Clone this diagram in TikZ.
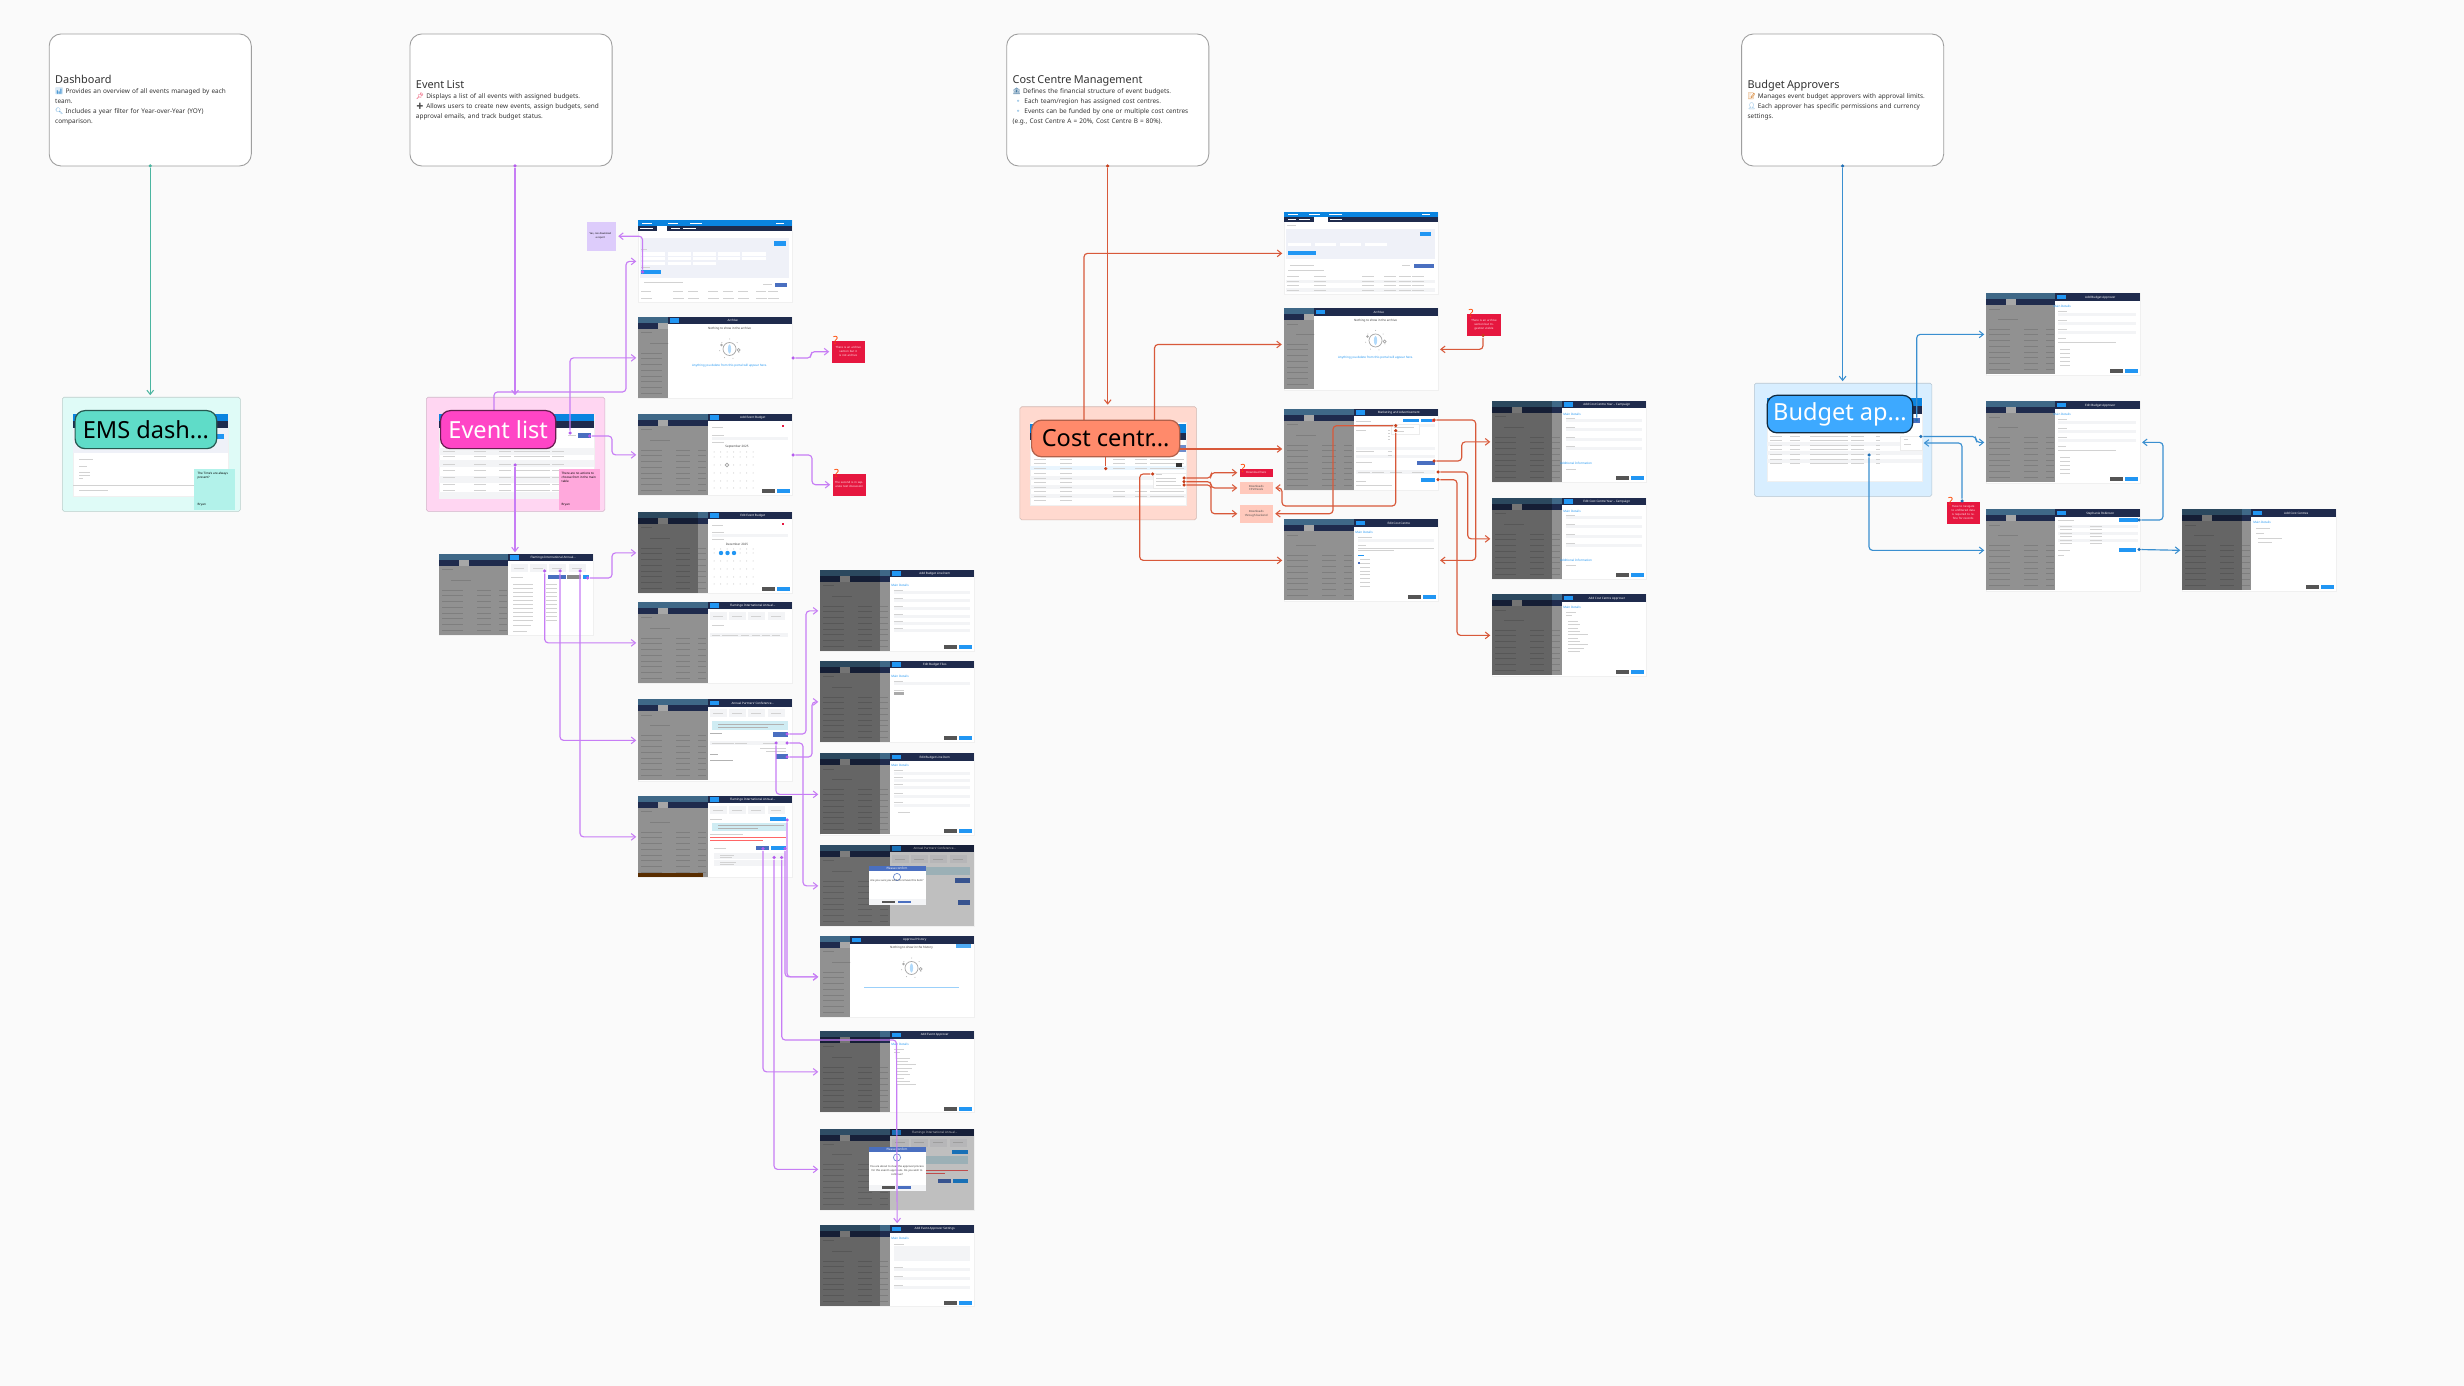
\documentclass[tikz,border=0pt]{standalone}
\usepackage{fontspec}
\setmainfont{Noto Sans}
\newfontfamily\emojifont{Noto Emoji}
\usetikzlibrary{arrows.meta}

\definecolor{canvas}{HTML}{FAFAFA}
\definecolor{navybar}{HTML}{1F2B4D}
\definecolor{topblue}{HTML}{0A84E0}
\definecolor{btnblue}{HTML}{2196F3}
\definecolor{btndark}{HTML}{4A6FC0}
\definecolor{btngray}{HTML}{555555}
\definecolor{sidedim}{HTML}{919191}
\definecolor{rowdim}{HTML}{7E7E7E}
\definecolor{panelbg}{HTML}{EFF1F8}
\definecolor{fieldbg}{HTML}{F3F4F6}
\definecolor{infobg}{HTML}{CFECF3}
\definecolor{evtline}{HTML}{C77DF5}
\definecolor{evtdot}{HTML}{B55CEE}
\definecolor{dashline}{HTML}{4BB5A0}
\definecolor{costline}{HTML}{D8593A}
\definecolor{costdot}{HTML}{C83E1A}
\definecolor{budgline}{HTML}{3A8FD0}
\definecolor{budgdot}{HTML}{1F6FB5}
\definecolor{alertred}{HTML}{E6173F}
\definecolor{costpink}{HTML}{FFC9BC}
\definecolor{dashfill}{HTML}{5FDCC8}
\definecolor{evtfill}{HTML}{FF45C6}
\definecolor{costfill}{HTML}{FF8A6B}
\definecolor{budgfill}{HTML}{3DA9FF}
\definecolor{mintnote}{HTML}{B2F2EA}
\definecolor{pinknote}{HTML}{FFA8DC}
\definecolor{lilacnote}{HTML}{DDCCFB}

\newcommand{\cardtitle}{\fontsize{3.1}{4}\selectfont}
\newcommand{\cardbody}{\fontsize{1.83}{2.85}\selectfont}
\newcommand{\tinyfont}{\fontsize{0.85}{1.1}\selectfont}
\newcommand{\emo}[2]{{\color{#1}\emojifont #2}}

\tikzset{
  infocard/.style={draw=gray!75,fill=white,line width=0.25pt,rounded corners=3.4pt,
    minimum width=2.02cm,minimum height=1.32cm,text width=1.9cm,inner xsep=0.06cm,inner ysep=0pt,
    align=left,font=\cardbody,text=black!80},
  groupbox/.style={draw=#1!80!black!90,fill=#1,line width=0.15pt,rounded corners=0.5pt,anchor=north west,inner sep=0pt},
  badge/.style={rounded corners=2.8pt,line width=0.35pt,anchor=north west,inner sep=0pt,font=\fontsize{6.7}{8}\selectfont},
  shotframe/.style={draw=gray!12,fill=white,line width=0.2pt,anchor=north west,inner sep=0pt,
    minimum width=1.535cm,minimum height=0.81cm},
  mockframe/.style={draw=gray!12,fill=white,line width=0.2pt,anchor=north west,inner sep=0pt},
  shottitle/.style={text=white,font=\tinyfont,inner sep=0pt},
  tinytext/.style={text=black!75,font=\tinyfont,inner sep=0pt},
  rowline/.style={draw=gray!35,line width=0.28pt},
  sticky/.style={fill=#1,anchor=north west,inner sep=0pt},
  stickytext/.style={anchor=north west,inner sep=0pt,font=\tinyfont,align=left},
  alertnote/.style={fill=alertred,anchor=north west,inner sep=0pt,text=white!90!alertred,
    font=\fontsize{0.8}{1.1}\selectfont,align=center},
  pinkbox/.style={fill=costpink,anchor=north west,inner sep=0pt,text=black!70,
    font=\fontsize{0.8}{1.1}\selectfont,align=center},
  qmark/.style={text=orange!55!red,font=\fontsize{3.2}{4}\selectfont\bfseries,inner sep=0pt},
  flow/.style={draw=#1,line width=0.33pt,rounded corners=1pt,shorten >=0.5pt,
    -{Straight Barb[length=1.2pt,width=1.9pt,line width=0.3pt]}},
  flowplain/.style={draw=#1,line width=0.33pt},
  portdot/.style={circle,fill=#1,inner sep=0pt,minimum size=0.035cm},
}

% dimmed page behind a drawer: name, x, y, sidebar width, title, body
\newcommand{\shot}[6]{
  \node[shotframe] (#1) at (#2,#3) {};
  \begin{scope}[shift={(#2,#3)}]
    \begin{scope}
      \clip (0,0) rectangle (#4,81);
      \fill[sidedim] (0,0) rectangle (#4,81);
      \fill[topblue!45!sidedim!75!black] (0,0) rectangle (#4,6);
      \fill[navybar] (0,6) rectangle (#4,12);
      \fill[sidedim!80!white] (20,6) rectangle (30,12);
      \draw[rowdim,line width=0.25pt] (3,15.5) -- (14,15.5) (12,26) -- (32,26);
      \foreach \y in {36,41,47,53,59,64,70,76}
        \draw[rowdim,line width=0.25pt] (3,\y) -- (24,\y) (38,\y) -- (52,\y) (60,\y) -- (68,\y)
          (78,\y) -- (88,\y) (98,\y) -- (110,\y);
    \end{scope}
    \fill[navybar] (#4,0) rectangle (153.5,7.5);
    \fill[btnblue] ({#4+1.5},1.5) rectangle +(9,4.5);
    \node[shottitle] (#1title) at ({(#4+153.5)/2+3},3.8) {#5};
    #6
  \end{scope}
}
\newcommand{\dimleft}[1]{\fill[black,opacity=0.3] (0,0) rectangle (#1,81);}
\newcommand{\fieldbody}[2]{
  \foreach \y in {#2} {
    \draw[rowline] (#1,\y) -- +(9,0);
    \fill[fieldbg] (#1,\y+1.2) rectangle (150,\y+4.2);
  }
}
\newcommand{\footbtns}{
  \fill[btngray] (124,75.5) rectangle (137,79.5);
  \fill[btnblue] (139,75.5) rectangle (152,79.5);
}
\newcommand{\tabsbody}{
  \foreach \x in {72,91,110,130} \fill[fieldbg] (\x,10) rectangle +(17,8);
  \foreach \x in {75,94,113,133} \draw[rowline] (\x,14) -- +(10,0);
}
\newcommand{\emptybody}[4]{
  \node[tinytext,font=\tinyfont\bfseries] (#1head) at (#2,12) {#3};
  \draw[gray!70,line width=0.2pt] (#2,32) circle (6.5);
  \fill[btnblue!35] (#2,32) ellipse (1.6 and 4.6);
  \fill[gray!70] ({#2-8},28) circle (1.4);
  \draw[gray!70,line width=0.2pt] ({#2+9},33) circle (1.5);
  \foreach \a in {20,70,120,170,220,270,320}
    \fill[gray!60] (#2,32) ++(\a:10) circle (0.5);
  #4
}
\newcommand{\dialogbox}[5]{
  \fill[white] (48.5,#2) rectangle (105.5,#3);
  \fill[btndark] (48.5,#2) rectangle (105.5,{#2+5.5});
  \node[shottitle] (#1head) at (77,{#2+2.8}) {Please confirm};
  \fill[fieldbg] (48.5,{#3-6}) rectangle (105.5,#3);
  \draw[btndark!80,line width=0.2pt] (77,{#2+11}) circle (3.6);
  \fill[btngray] (62,{#3-4.4}) rectangle +(13,2.8);
  \fill[btndark] (78,{#3-4.4}) rectangle +(13,2.8);
  \node[tinytext,align=center,font=\fontsize{0.75}{1.1}\selectfont] (#1text) at (77,#4) {#5};
}
\newcommand{\mockrows}[2]{
  \foreach \y in {#1} \foreach \x in {#2} \draw[rowline] (\x,\y) -- +(12,0);
}

\begin{document}
\begin{tikzpicture}[x=0.01cm,y=-0.01cm]
\useasboundingbox (0,0) rectangle (2464,1386);
\fill[canvas] (0,0) rectangle (2464,1386);

% section cards
\node[infocard] (dashcard) at (150.25,100) {{\cardtitle Dashboard}\\
  \emo{budgline}{📊} Provides an overview of all events managed by each\\ team.\\
  \emo{budgline}{🔍} Includes a year filter for Year-over-Year (YOY)\\ comparison.};
\node[infocard] (evtcard) at (511,100) {{\cardtitle Event List}\\
  \emo{alertred}{📌} Displays a list of all events with assigned budgets.\\
  \emo{black!70}{➕} Allows users to create new events, assign budgets, send\\ approval emails, and track budget status.};
\node[infocard] (costcard) at (1107.75,100) {{\cardtitle Cost Centre Management}\\
  \emo{budgline!70!black}{🏦} Defines the financial structure of event budgets.\\
  \hspace*{0.4pt}\emo{budgline}{🔹} Each team/region has assigned cost centres.\\
  \hspace*{0.4pt}\emo{budgline}{🔹} Events can be funded by one or multiple cost centres\\
  (e.g., Cost Centre A = 20\%, Cost Centre B = 80\%).};
\node[infocard] (budgcard) at (1842.6,100) {{\cardtitle Budget Approvers}\\
  \emo{orange!80!black}{📝} Manages event budget approvers with approval limits.\\
  \emo{budgline}{👤} Each approver has specific permissions and currency\\ settings.};

% colored groups
\definecolor{groupmint}{HTML}{DFFBF7}
\definecolor{grouppink}{HTML}{FFD6F2}
\definecolor{grouporange}{HTML}{FFD9CF}
\definecolor{groupblue}{HTML}{D8EEFF}
\node[groupbox=groupmint,minimum width=1.78cm,minimum height=1.14cm] (dashgroup) at (62,397) {};
\node[groupbox=grouppink,minimum width=1.785cm,minimum height=1.14cm] (evtgroup) at (426,397) {};
\node[groupbox=grouporange,minimum width=1.765cm,minimum height=1.13cm] (costgroup) at (1019.6,406.5) {};
\node[groupbox=groupblue,minimum width=1.775cm,minimum height=1.13cm] (budggroup) at (1754,383) {};

% dashboard page
\node[mockframe,minimum width=1.55cm,minimum height=0.82cm] (dashmock) at (73,414) {};
\fill[topblue] (73,414) rectangle (228,421);
\fill[navybar] (73,421) rectangle (228,428);
\fill[panelbg] (73,428) rectangle (228,453);
\fill[btnblue] (216,434) rectangle (224,439);
\draw[rowline] (79,459) -- (93,459) (79,466) -- (87,466) (79,472) -- (90,472) (79,475) -- (90,475) (79,478) -- (83,478)
  (73,485) -- (228,485) (79,490) -- (108,490);
\node[sticky=mintnote,minimum width=0.41cm,minimum height=0.41cm] (dashnote) at (193,468) {};
\node[stickytext] (dashnotetext) at (197,472) {The Time's are always\\ present?};
\node[stickytext] (dashnotename) at (197,502) {Bryan};

% event list page
\node[mockframe,minimum width=1.55cm,minimum height=0.82cm] (evtmock) at (439,414) {};
\fill[topblue] (439,414) rectangle (594,421);
\fill[navybar] (439,421) rectangle (594,428);
\fill[btndark] (578,433) rectangle (591,438);
\draw[rowline] (568,435.5) -- (576,435.5);
\foreach \y in {448,460,476,492} \fill[fieldbg] (439,\y) rectangle (594,\y+7);
\mockrows{451,456,464,470,477,484,490}{443,474,499,514,526,538,552}
\node[sticky=pinknote,minimum width=0.41cm,minimum height=0.41cm] (evtnote) at (558,468) {};
\node[stickytext] (evtnotetext) at (561,472) {There are no actions to\\ choose from in the main\\ table};
\node[stickytext] (evtnotename) at (561,502) {Bryan};

% cost centre page
\node[mockframe,minimum width=1.565cm,minimum height=0.83cm] (costmock) at (1029.5,422) {};
\fill[topblue] (1029.5,424) rectangle (1186,433);
\fill[navybar] (1029.5,433) rectangle (1186,440);
\fill[btndark!80] (1177,445) rectangle (1186,452);
\fill[btnblue!10] (1030,466) rectangle (1186,470);
\foreach \y in {476,485,494} \fill[fieldbg] (1030,\y) rectangle (1186,\y+4);
\mockrows{459,463,468}{1034,1060,1113,1135,1150,1162,1172}
\mockrows{473,478,482,487,491,496,500}{1034,1060}
\mockrows{491,496}{1113,1135,1150,1162,1172}
\fill[black!80] (1176,463) rectangle (1182,467);
\fill[white] (1153,473) rectangle (1186,488);
\draw[gray!15,line width=0.15pt] (1153,473) rectangle (1186,488);
\draw[rowline] (1156,474.5) -- (1162,474.5) (1156,478) -- (1176,478) (1156,481.6) -- (1176,481.6) (1156,485) -- (1181,485);

% budget page
\node[mockframe,minimum width=1.555cm,minimum height=0.82cm] (budgmock) at (1766.5,398.5) {};
\fill[topblue] (1766.5,398.5) rectangle (1922,406);
\fill[navybar] (1766.5,406) rectangle (1922,414);
\fill[btndark] (1912,418) rectangle (1920,423);
\foreach \y in {442,451,459} \fill[fieldbg] (1766.5,\y) rectangle (1922,\y+4);
\foreach \y in {436,440.5,445,449.5,454,459,463} {
  \draw[rowline] (1770,\y) -- (1782,\y) (1790,\y) -- (1800,\y) (1810,\y) -- (1848,\y) (1851,\y) -- (1864,\y) (1876,\y) -- (1880,\y);
}
\fill[white] (1900,436) rectangle (1922,450);
\draw[gray!15,line width=0.15pt] (1900,436) rectangle (1922,450);
\draw[rowline] (1904,439) -- (1908,439) (1904,444) -- (1911,444);

% event column
\node[shotframe] (e1) at (638,220.5) {};
\begin{scope}[shift={(638,220.5)}]
  \fill[topblue] (0,0) rectangle (153.5,6);
  \fill[navybar] (0,6) rectangle (153.5,11);
  \fill[white] (19,6) rectangle (29,11);
  \draw[draw=white,line width=0.28pt] (2,8.5) -- (15,8.5) (33,8.5) -- (42,8.5) (45,8.5) -- (58,8.5) (4,3) -- (14,3) (30,3) -- (40,3) (52,3) -- (64,3) (138,3) -- (146,3);
  \fill[panelbg] (2,18) rectangle (151,58);
  \fill[btnblue] (136,21) rectangle (148,26);
  \foreach \x/\w in {2.5/24.5,30/23,55/23,80/22,104/24} \fill[white] (\x,32) rectangle +(\w,3.2);
  \foreach \x/\w in {2.5/24.5,30/23,55/23,80/22,104/24} \fill[white] (\x,37) rectangle +(\w,3);
  \foreach \x/\w in {2.5/24.5,30/23,55/23} \fill[white] (\x,41.5) rectangle +(\w,3);
  \fill[btnblue] (3,50) rectangle (23,54);
  \draw[rowline] (6,62.5) -- (45,62.5) (125,64.5) -- (134,64.5) (3,29.5) -- (9,29.5) (3,47.5) -- (12,47.5);
  \fill[btndark] (137,62.5) rectangle (149,66.5);
  \foreach \x in {3,35,50,70,85,100,118,130} \draw[rowline] (\x,71) -- +(10,0) (\x,78) -- +(11,0);
\end{scope}
\shot{e2}{638}{317}{30}{Archive}{\emptybody{e2}{91.5}{Nothing to show in the archive}{%
  \node[tinytext,text=btnblue] (e2hint) at (91.5,49) {Anything you delete from this portal will appear here.};}}
\shot{e3}{638}{414}{70}{Add Event Budget}{
  \draw[rowline] (74,13) -- (85,13) (74,21) -- (86,21) (74,28) -- (86,28);
  \fill[fieldbg] (74,23) rectangle (150,26);
  \fill[alertred] (144,11) rectangle (146,13);
  \node[tinytext] (e3month) at (99,33) {September 2025};
  \foreach \x in {76,82.5,...,115} \foreach \y in {38,43,51,59,67,74} \fill[gray!55] (\x,\y) circle (0.5);
  \draw[gray!70,line width=0.2pt] (89,51) circle (1.8);
  \footbtns}
\shot{e4}{638}{512}{70}{Edit Event Budget}{
  \dimleft{60}
  \draw[rowline] (74,13) -- (85,13) (74,20) -- (86,20) (74,27) -- (86,27);
  \fill[fieldbg] (74,22) rectangle (150,25);
  \fill[alertred] (144,11) rectangle (146,13);
  \node[tinytext] (e4month) at (99,32) {December 2025};
  \foreach \x in {76,82.5,...,115} \foreach \y in {37,41,49,57,65,72} \fill[gray!55] (\x,\y) circle (0.5);
  \foreach \x in {83,89.5,96} \fill[btnblue] (\x,41) circle (2.2);
  \footbtns}
\shot{e5}{638}{602}{70}{Flamingo International Annual...}{
  \tabsbody
  \draw[rowline] (74,23) -- (86,23);
  \fill[fieldbg] (72,31) rectangle (150,35);
  \foreach \x in {74,84,92,103,114,124,134} \draw[rowline] (\x,33) -- +(8,0);}
\shot{e6}{638}{699.5}{70}{Annual Partners' Conference...}{
  \tabsbody
  \fill[infobg] (74,22) rectangle (150,30.5);
  \draw[gray!60,line width=0.28pt] (80,24.5) -- (146,24.5) (80,27.5) -- (130,27.5) (72,34) -- (84,34) (72,55) -- (80,55) (72,61) -- (95,61);
  \fill[btndark] (135,33) rectangle (150,37.5);
  \fill[fieldbg] (72,42) rectangle (150,46);
  \mockrows{44}{74,84,97,125}
  \draw[rowline] (122,49) -- (148,49) (128,52) -- (148,52);
  \fill[btndark] (138,55) rectangle (150,60);}
\shot{e7}{638}{796}{70}{Flamingo International Annual...}{
  \fill[orange!35!black] (0,77) rectangle (65,81);
  \tabsbody
  \draw[rowline] (72,23.5) -- (84,23.5) (72,38) -- (105,38);
  \fill[btnblue] (132,21.5) rectangle (148,25);
  \fill[infobg] (74,27) rectangle (148,35);
  \draw[gray!60,line width=0.28pt] (80,29.5) -- (146,29.5) (80,32.5) -- (120,32.5);
  \draw[red!60,line width=0.25pt] (72,41.5) -- (148,41.5) (72,44.5) -- (125,44.5);
  \draw[rowline] (76,52) -- (88,52);
  \fill[btndark] (118,50) rectangle (131,54);
  \fill[btnblue] (133,50) rectangle (148,54);
  \fill[fieldbg] (76,57) rectangle (148,63);
  \fill[fieldbg] (76,64) rectangle (148,70);
  \draw[rowline] (82,59) -- (96,59) (82,61.5) -- (94,61.5) (82,66) -- (98,66) (82,68.5) -- (96,68.5);}
\shot{e0}{439}{554}{69}{Flamingo International Annual...}{
  \tabsbody
  \draw[rowline] (72,23) -- (84,23);
  \fill[btndark] (109,21) rectangle (127,25);
  \fill[btngray!70] (128,21) rectangle (142,25);
  \fill[btnblue] (143.5,21) rectangle (150,25);
  \foreach \y in {30,34,38,42,46,50,54,58,62,66} {
    \draw[rowline] (74,\y) -- (94,\y) (107,\y) -- (118,\y);
  }
  \draw[rowline] (74,71) -- (92,71) (74,77) -- (88,77);}

% red and purple notes next to the event column
\node[sticky=lilacnote,minimum width=0.29cm,minimum height=0.29cm] (dlnote) at (586,221) {};
\node[stickytext,align=center,font=\fontsize{0.7}{1}\selectfont] (dlnotetext) at (589,232) {Yes, can download\\ a report};
\node[alertnote,minimum width=0.33cm,minimum height=0.22cm,text width=0.31cm] (s1) at (831,340) {There is an archive section but it is not archive};
\node[alertnote,minimum width=0.33cm,minimum height=0.22cm,text width=0.31cm] (s2) at (832,473) {The second is in separate text discussion};
\node[qmark] (s1q) at (835.5,341) {?};
\node[qmark] (s2q) at (836.5,474) {?};

% event drawers
\shot{r1}{820}{570}{70}{Add Budget Line Item}{
  \dimleft{60}
  \node[tinytext,text=btnblue] (r1link) at (80,15) {Main Details};
  \fieldbody{74}{20,28,36,44,51,58}
  \footbtns}
\shot{r2}{820}{661}{70}{Edit Budget Files}{
  \dimleft{60}
  \node[tinytext,text=btnblue] (r2link) at (80,15) {Main Details};
  \fieldbody{74}{20}
  \draw[rowline] (74,29) -- (84,29);
  \fill[btngray!50] (74,31) rectangle (84,34);
  \footbtns}
\shot{r3}{820}{753.5}{70}{Edit Budget Line Item}{
  \dimleft{60}
  \node[tinytext,text=btnblue] (r3link) at (80,12) {Main Details};
  \fieldbody{74}{17,24,31,40,49}
  \draw[rowline] (78,59) -- (90,59);
  \footbtns}
\shot{r4}{820}{845}{70}{Annual Partners' Conference...}{
  \tabsbody
  \fill[infobg] (74,22) rectangle (150,30.5);
  \fill[btndark] (135,33) rectangle (150,37.5);
  \fill[btndark] (138,55) rectangle (150,60);
  \fill[black,opacity=0.25] (0,0) rectangle (153.5,81);
  \dialogbox{r4}{21}{60}{36}{Are you sure you wish to remove this item?}}
\shot{r5}{820}{936}{30}{Approval History}{
  \emptybody{r5}{91.5}{Nothing to show in the history}{%
  \fill[btnblue!80] (136,8) rectangle (151,12);
  \draw[btnblue!45,line width=0.25pt] (44,51) -- (139,51);}}
\shot{r6}{820}{1031}{70}{Add Event Approver}{
  \dimleft{60}
  \node[tinytext,text=btnblue] (r6link) at (80,13) {Main Details};
  \draw[rowline] (74,18) -- (84,18) (74,21) -- (80,21) (76,27) -- (90,27) (76,30) -- (88,30) (76,33) -- (96,33)
    (76,37) -- (92,37) (76,40) -- (88,40) (76,43) -- (90,43) (76,47) -- (84,47) (76,50) -- (90,50) (76,53) -- (96,53);
  \footbtns}
\shot{r7}{820}{1128.5}{70}{Flamingo International Annual...}{
  \tabsbody
  \fill[infobg] (74,27) rectangle (148,35);
  \fill[btnblue] (132,21.5) rectangle (148,25);
  \draw[red!60,line width=0.25pt] (72,41.5) -- (148,41.5) (72,44.5) -- (125,44.5);
  \fill[btndark] (118,50) rectangle (131,54);
  \fill[btnblue] (133,50) rectangle (148,54);
  \fill[black,opacity=0.25] (0,0) rectangle (153.5,81);
  \dialogbox{r7}{18}{62}{42}{You are about to clear the approval process\\ for this event's approvals. Do you wish to\\ continue?}}
\shot{r8}{820}{1225}{70}{Add Event Approver Settings}{
  \dimleft{60}
  \node[tinytext,text=btnblue] (r8link) at (80,13) {Main Details};
  \draw[rowline] (74,19) -- (84,19);
  \fill[fieldbg] (74,21) rectangle (150,36);
  \fieldbody{74}{42,51,60}
  \footbtns}

% cost column
\node[shotframe] (c1) at (1284,212.5) {};
\begin{scope}[shift={(1284,212.5)}]
  \fill[topblue] (0,0) rectangle (153.5,5);
  \fill[navybar] (0,5) rectangle (153.5,10);
  \fill[white] (30,5) rectangle (44,10);
  \draw[draw=white,line width=0.28pt] (4,2.5) -- (14,2.5) (25,2.5) -- (36,2.5) (45,2.5) -- (58,2.5) (138,2.5) -- (146,2.5) (4,7.5) -- (12,7.5) (15,7.5) -- (26,7.5) (46,7.5) -- (58,7.5);
  \draw[rowline] (3,13) -- (12,13);
  \fill[panelbg] (2,17) rectangle (151,47);
  \fill[btnblue] (136,20) rectangle (147,24);
  \foreach \x/\w in {4/23,31/21,56/21,81/22} \fill[white] (\x,31) rectangle +(\w,3);
  \fill[btnblue] (4,39) rectangle (32,43);
  \draw[rowline] (6,53.5) -- (30,53.5) (118,53.5) -- (126,53.5) (4,58) -- (40,58);
  \fill[btndark] (130,52) rectangle (150,55.5);
  \fill[fieldbg] (2,68) rectangle (151,71);
  \fill[fieldbg] (2,76) rectangle (151,80);
  \mockrows{64,69,73,78}{3,30,78,100,115,128}
\end{scope}
\shot{c2}{1284}{308.5}{30}{Archive}{\emptybody{c2}{91.5}{Nothing to show in the archive}{%
  \node[tinytext,text=btnblue] (c2hint) at (91.5,49) {Anything you delete from this portal will appear here.};}}
\shot{c3}{1284}{409}{70}{Marketing and Advertisement}{
  \draw[rowline] (72,12) -- (87,12) (72,53) -- (88,53) (72,72) -- (82,72) (72,76) -- (108,76);
  \fill[btnblue] (119,10) rectangle (135,13.5);
  \fill[btnblue] (137,10) rectangle (151,13.5);
  \fill[alertred!70] (148,10) rectangle (151,13.5);
  \fill[fieldbg] (72,15) rectangle (151,18);
  \draw[rowline] (72,21) -- (82,21);
  \draw[rowline] (104,21) -- (106,21) (104,24) -- (106,24) (104,27) -- (106,27) (104,30) -- (106,30);
  \fill[white] (107,15) rectangle (135,25);
  \draw[gray!15,line width=0.15pt] (107,15) rectangle (135,25);
  \draw[rowline] (110,18) -- (130,18) (110,22) -- (120,22);
  \foreach \y in {38,46} \fill[fieldbg] (72,\y) rectangle (151,\y+3);
  \draw[rowline] (72,42) -- (90,42) (104,42) -- (108,42) (104,46.5) -- (108,46.5);
  \fill[btndark] (133,52) rectangle (151,56);
  \fill[fieldbg] (72,61) rectangle (151,65);
  \mockrows{63}{74,88,106,128}
  \fill[btnblue] (137,69) rectangle (151,73);}
\shot{c4}{1284}{519.5}{70}{Edit Cost Centre}{
  \node[tinytext,text=btnblue] (c4link) at (80,13) {Main Details};
  \draw[rowline] (74,18) -- (88,18) (74,26) -- (82,26) (74,29) -- (150,29) (74,31) -- (110,31);
  \fill[fieldbg] (74,19.5) rectangle (150,23);
  \foreach \y in {40,44,47.5,51.5,55,59,62.5,66.5} \draw[rowline] (76,\y) -- (86,\y);
  \fill[btndark] (74,42.5) rectangle (76,44.5);
  \draw[btnblue,line width=0.3pt] (74,36) -- (80,36);
  \footbtns}

% cost right column
\shot{d1}{1492}{401}{70}{Add Cost Centre Year -- Campaign}{
  \dimleft{60}
  \node[tinytext,text=btnblue] (d1link) at (80,13) {Main Details};
  \fieldbody{74}{17,26,36,45}
  \node[tinytext,text=btnblue] (d1more) at (84,62) {Additional Information};
  \draw[rowline] (74,68) -- (84,68);
  \footbtns}
\shot{d2}{1492}{498}{70}{Edit Cost Centre Year -- Campaign}{
  \dimleft{60}
  \node[tinytext,text=btnblue] (d2link) at (80,13) {Main Details};
  \fieldbody{74}{17,26,36,45}
  \node[tinytext,text=btnblue] (d2more) at (84,62) {Additional Information};
  \draw[rowline] (74,67) -- (84,67);
  \footbtns}
\shot{d3}{1492}{594.5}{70}{Add Cost Centre Approver}{
  \dimleft{60}
  \node[tinytext,text=btnblue] (d3link) at (80,13) {Main Details};
  \draw[rowline] (74,18) -- (84,18) (74,21) -- (80,21) (76,27) -- (86,27) (76,30) -- (88,30) (76,34) -- (86,34)
    (76,37) -- (88,37) (76,40) -- (96,40) (76,44) -- (86,44) (76,47) -- (88,47) (76,50) -- (96,50) (76,54) -- (92,54) (76,57) -- (88,57);
  \footbtns}

% cost notes
\node[alertnote,minimum width=0.335cm,minimum height=0.225cm,text width=0.31cm] (credit) at (1466.5,313) {There is an archive section but Ingestion visible};
\node[alertnote,minimum width=0.33cm,minimum height=0.08cm] (cdl) at (1239,468) {Download here};
\node[pinkbox,minimum width=0.33cm,minimum height=0.125cm] (cp1) at (1239,481) {Downloads\\ CSV/Excels};
\node[pinkbox,minimum width=0.33cm,minimum height=0.18cm] (cp2) at (1239,504) {Downloads\\ through backend};
\node[qmark] (creditq) at (1471,314) {?};
\node[qmark] (cdlq) at (1243,469) {?};

% budget column
\shot{b1}{1986}{293.5}{69}{Add Budget Approver}{
  \node[tinytext,text=btnblue] (b1link) at (76,13) {Main Details};
  \fieldbody{72}{18,27,36}
  \draw[rowline] (72,45) -- (80,45) (72,49) -- (130,49);
  \foreach \y in {56,60,64,68,72} \draw[rowline] (74,\y) -- (84,\y);
  \footbtns}
\shot{b2}{1986}{401.5}{69}{Edit Budget Approver}{
  \node[tinytext,text=btnblue] (b2link) at (76,13) {Main Details};
  \fieldbody{72}{18,27,36}
  \draw[rowline] (72,45) -- (80,45) (72,49) -- (130,49);
  \foreach \y in {56,60,64,68,72} \draw[rowline] (74,\y) -- (84,\y);
  \footbtns}
\shot{b3}{1986}{509.5}{69}{Stephanie Robinson}{
  \draw[rowline] (72,11) -- (88,11) (72,41) -- (84,41) (72,46) -- (78,46);
  \fill[btnblue] (133,9) rectangle (152,13);
  \fill[btnblue] (133,39) rectangle (150,43);
  \foreach \y in {16,23,30} \fill[fieldbg] (72,\y) rectangle (152,\y+3);
  \foreach \y in {17,20,24,27,31,34} \draw[rowline] (74,\y) -- (86,\y) (104,\y) -- (116,\y);}
\shot{b4}{2182}{509.5}{69}{Add Cost Centres}{
  \dimleft{60}
  \node[tinytext,text=btnblue] (b4link) at (80,13) {Main Details};
  \draw[rowline] (74,19) -- (88,19) (74,24) -- (82,24) (76,29) -- (100,29) (76,33) -- (90,33);
  \footbtns}

% red note for budget
\node[alertnote,minimum width=0.33cm,minimum height=0.22cm,text width=0.31cm] (bred) at (1946,501) {Have to navigate to unfiltered data is required to refine for records};
\node[qmark] (bredq) at (1950.5,502) {?};

% ports
\foreach \n/\x/\y in {evrow/515/465,evbtna/570/433,evbtnb/589.5/436,e1btn/642.5/272,e2out/793/358,e3out/793/455,
    e0a/587.5/578,e0b/544.7/571,e0c/560/571,e0d/580/571,e6a/787/734,e6b/787/757,e6c/776/743,e6d/787/743,
    e7a/787/820,e7b/785/848.6,e7c/763/848.6,e7d/774/857.5,e7e/781.7/857.5,evcarddot/515/166}
  \node[portdot=evtdot] (\n) at (\x,\y) {};
\foreach \n/\x/\y in {ccrow/1105.8/468.6,ccpop/1152.7/474,cca/1184/478,ccb/1184/481.7,ccc/1184/485,
    c3a/1395.7/425.7,c3b/1395.7/430.7,c3c/1434/420,c3d/1434/461,c3e/1438/472,c3f/1438/479.7,
    costcarddot/1107.7/166,creditdot/1483/335.5}
  \node[portdot=costdot] (\n) at (\x,\y) {};
\foreach \n/\x/\y in {bda/1916.7/420,bdb/1920.8/436.5,bdc/1869/455,b3a/2139/520,b3b/2139/549.5,
    budgcarddot/1842.6/166,breddot/1962/501}
  \node[portdot=budgdot] (\n) at (\x,\y) {};
\node[portdot=dashline] (dashcarddot) at (150.25,166) {};
\coordinate (evbtop) at (494,410);
\coordinate (cctopa) at (1084,420);
\coordinate (cctopb) at (1154.5,420);
\coordinate (ccright) at (1179,449);
\coordinate (c2in) at (1283.5,344.5);
\coordinate (bmockin) at (1922,443);

% connectors
\draw[flow=dashline] (dashcarddot) -- (dashgroup.north -| dashcarddot);
\draw[flow=evtline] (evcarddot) -- (evtgroup.north -| evcarddot);
\draw[flow=evtline] (evbtop) |- (626,392) |- (e1.west);
\draw[flow=evtline] (e1btn) |- (dlnote.east);
\draw[flow=evtline] (evbtna) |- (e2.west);
\draw[flow=evtline] (evbtnb) -- (612,436) |- (e3.west);
\draw[flow=evtline] (e2out) -- (811,358) |- (s1.west);
\draw[flow=evtline] (e3out) -- (812,455) |- (s2.west);
\draw[flow=evtline] (evrow) -- (e0.north -| evrow);
\draw[flow=evtline] (e0a) -- (612,578) |- (e4.west);
\draw[flow=evtline] (e0b) |- (e5.west);
\draw[flow=evtline] (e0c) |- (e6.west);
\draw[flow=evtline] (e0d) |- (e7.west);
\draw[flow=evtline] (e6a) -- (806,734) |- (r1.west);
\draw[flow=evtline] (e6b) -- (812,757) |- (r2.west);
\draw[flow=evtline] (e6c) |- (r3.west);
\draw[flow=evtline] (e6d) -- (803,743) |- (r4.west);
\draw[flow=evtline] (e7a) |- (r5.west);
\draw[flow=evtline] (e7b) |- (r5.west);
\draw[flow=evtline] (e7c) |- (r6.west);
\draw[flow=evtline] (e7d) |- (r7.west);
\draw[flow=evtline] (e7e) |- (896.5,1040) -- (r8.north);

\draw[flow=costline] (costcarddot) -- (costgroup.north -| costcarddot);
\draw[flow=costline] (cctopa) |- (c1.west);
\draw[flow=costline] (cctopb) |- (c2in);
\draw[flow=costline] (ccright) -- (c3.west |- ccright);
\draw[flowplain=costline] (ccrow) -- (1105.8,456);
\draw[flow=costline] (ccpop) -- (1139.7,474) |- (c4.west);
\draw[flow=costline] (cca) -- (1211,478) |- (cdl.west);
\draw[flow=costline] (ccb) -- (1211,481.7) |- (cp1.west);
\draw[flow=costline] (ccc) -- (1211,485) |- (cp2.west);
\draw[flow=costline] (c3a) -- (1333,425.7) |- (cp2.east);
\draw[flow=costline] (c3b) |- (1282,506) |- (cp1.east);
\draw[flow=costline] (c3c) -- (1475.7,420) |- (c4.east);
\draw[flow=costline] (c3d) -- (1461.7,461) |- (d1.west);
\draw[flow=costline] (c3e) -- (1467.7,472) |- (d2.west);
\draw[flow=costline] (c3f) -- (1457,479.7) |- (d3.west);
\draw[flow=costline] (creditdot) |- (c2.east);

\draw[flow=budgline] (budgcarddot) -- (budggroup.north -| budgcarddot);
\draw[flow=budgline] (bda) |- (b1.west);
\draw[flow=budgline] (bdb) -- (1976,436.5) |- (b2.west);
\draw[flow=budgline] (breddot) |- (bmockin);
\draw[flow=budgline] (bdc) |- (b3.west);
\draw[flow=budgline] (b3a) -- (2163,520) |- (b2.east);
\draw[flow=budgline] (b3b) -- (b4.west);

% badges on top
\node[badge,draw=dashfill!40!black,fill=dashfill,text=black,minimum width=1.415cm,minimum height=0.38cm] (dashbadge) at (74.5,410) {EMS dash...};
\node[badge,draw=evtfill!40!black,fill=evtfill,text=white,minimum width=1.15cm,minimum height=0.38cm] (evtbadge) at (440,410) {Event list};
\node[badge,draw=costfill!70!black,fill=costfill,text=black,minimum width=1.48cm,minimum height=0.365cm] (costbadge) at (1031,419.6) {Cost centr...};
\node[badge,draw=budgfill!25!black,fill=budgfill,text=white,minimum width=1.455cm,minimum height=0.375cm] (budgbadge) at (1766.5,394.7) {Budget ap...};
\end{tikzpicture}
\end{document}
